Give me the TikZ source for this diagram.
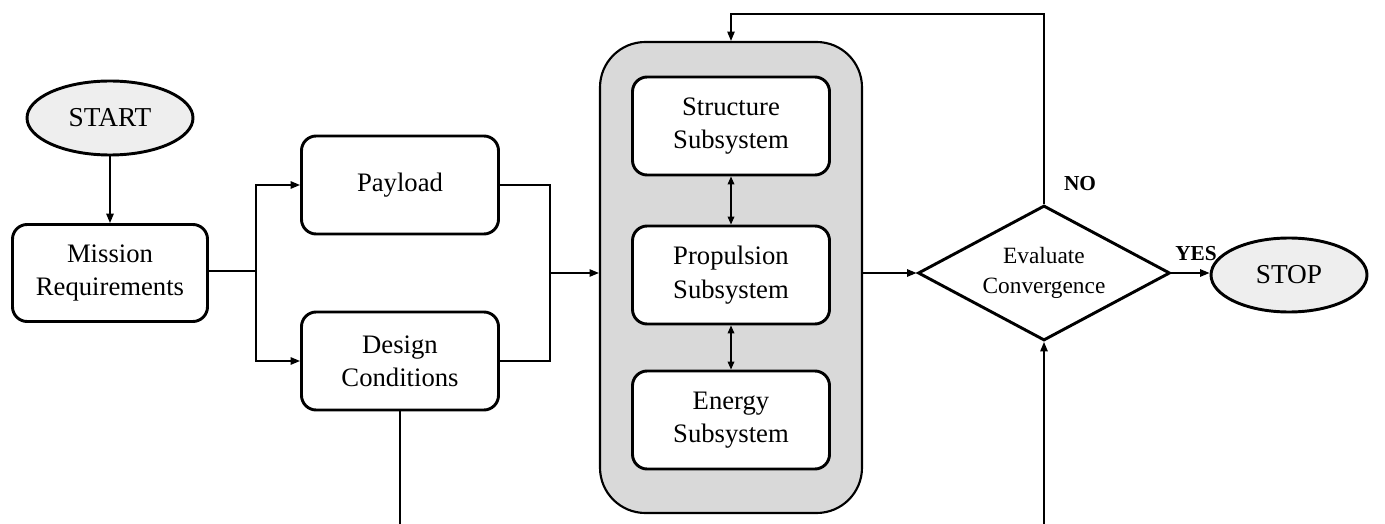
\documentclass[tikz,border=0pt]{standalone}
\usepackage{fontspec}
\setmainfont{Liberation Serif}
\usetikzlibrary{arrows.meta,shapes.geometric}

\definecolor{termfill}{RGB}{238,238,238}
\definecolor{corefill}{RGB}{217,217,217}

\tikzset{every picture/.style={line width=0.75pt}}
\tikzset{
  stepbox/.style={draw,rounded corners=11pt,line width=2.2pt,fill=white,align=center,
    minimum width=147.75pt,minimum height=73.5pt,inner sep=0pt,font=\fontsize{20}{25}\selectfont},
  subbox/.style={stepbox},
  terminal/.style={draw,ellipse,line width=2.2pt,fill=termfill,inner sep=0pt,
    minimum height=55.5pt,font=\fontsize{20.5}{24}\selectfont},
  decision/.style={draw,diamond,line width=2.2pt,fill=white,align=center,inner sep=0pt,
    shape aspect=1.87,minimum width=189pt,minimum height=101.25pt,font=\fontsize{17.5}{22.5}\selectfont},
  flow/.style={line width=1.1pt,-{Triangle[length=7pt,width=5.5pt]}},
  link/.style={line width=1.1pt},
  both/.style={line width=1.1pt,{Triangle[length=6pt,width=5pt]}-{Triangle[length=6pt,width=5pt]}},
  answer/.style={font=\bfseries\fontsize{16}{19}\selectfont}
}

\begin{document}
\begin{tikzpicture}[x=0.75pt,y=0.75pt,yscale=-1,xscale=1]
\path[use as bounding box] (0,0) rectangle (1385,524);

%Shape: Rounded Rect, subsystem block
\draw (731,277.5) node [draw,rounded corners=34pt,line width=1.6pt,fill=corefill,
  minimum width=196.5pt,minimum height=353.25pt] (core) {};

%Shape: Ellipse
\draw (110,118) node [terminal,minimum width=124.5pt] (start) {START};
%Shape: Rounded Rect
\draw (110,273) node [stepbox,minimum width=146.25pt,minimum height=72.75pt] (mission) {Mission\\Requirements};
\draw (400,185) node [stepbox] (payload) {Payload};
\draw (400,361) node [stepbox] (design) {Design\\Conditions};
\draw (731,126) node [subbox] (structure) {Structure\\Subsystem};
\draw (731,275) node [subbox] (propulsion) {Propulsion\\Subsystem};
\draw (731,420) node [subbox] (energy) {Energy\\Subsystem};
%Shape: Diamond
\draw (1044,273) node [decision] (eval) {Evaluate\\Convergence};
%Shape: Ellipse
\draw (1289,275) node [terminal,minimum width=117pt] (stop) {STOP};

\coordinate (split) at (256,271);
\coordinate (merge) at (550,273);
\coordinate (loop) at (1044,14);
\coordinate (outL) at (400,524);
\coordinate (outR) at (1044,524);

%Straight Lines
\draw [flow] (start) -- (mission);
\draw [link] (mission.east |- split) -- (split);
\draw [flow] (split) |- (payload.west);
\draw [flow] (split) |- (design.west);
\draw [link] (payload.east) -| (merge);
\draw [link] (design.east) -| (merge);
\draw [flow] (merge) -- (merge -| core.west);
\draw [both] (structure) -- (propulsion);
\draw [both] (propulsion) -- (energy);
\draw [flow] (eval.west -| core.east) -- (eval.west);
\draw [flow] (eval.north) -- (loop) -| (core.north);
\draw [flow] (eval.east) -- (eval.east -| stop.west);
\draw [link] (design.south) -- (outL);
\draw [flow] (outR) -- (eval.south);

% Text Node
\draw (1080,184) node [answer] {NO};
% Text Node
\draw (1196,254) node [answer] {YES};

\end{tikzpicture}
\end{document}
